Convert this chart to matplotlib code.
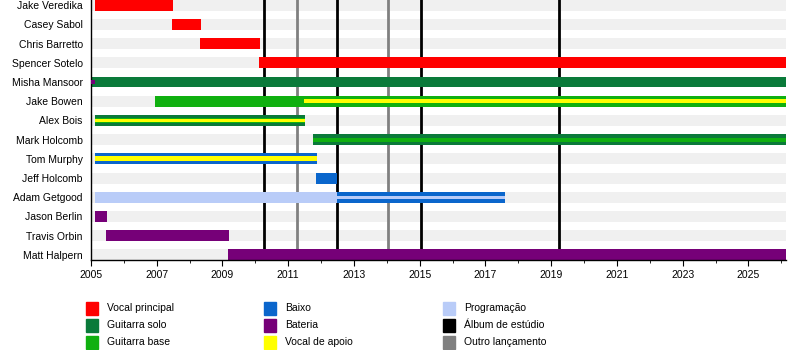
import matplotlib.pyplot as plt
from matplotlib.patches import Rectangle
from matplotlib.ticker import FixedLocator, MultipleLocator

plt.rcParams["font.family"] = ["Liberation Sans", "DejaVu Sans"]
plt.rcParams["font.size"] = 7.5

# --- band members, top to bottom ---
members = [
    "Jake Veredika", "Casey Sabol", "Chris Barretto", "Spencer Sotelo",
    "Misha Mansoor", "Jake Bowen", "Alex Bois", "Mark Holcomb",
    "Tom Murphy", "Jeff Holcomb", "Adam Getgood", "Jason Berlin",
    "Travis Orbin", "Matt Halpern",
]

# role colours / legend labels
role_colors = {
    "vocal": "#ff0000",
    "lead": "#0a7a3a",
    "rhythm": "#10b010",
    "bass": "#0a66cc",
    "drums": "#760078",
    "backing": "#ffff00",
    "prog": "#b9ccf8",
}
role_labels = {
    "vocal": "Vocal principal",
    "lead": "Guitarra solo",
    "rhythm": "Guitarra base",
    "bass": "Baixo",
    "drums": "Bateria",
    "backing": "Vocal de apoio",
    "prog": "Programação",
}

# main roles: (member, role, start, end)
main_roles = [
    ("Jake Veredika", "vocal", 2005.12, 2007.5),
    ("Casey Sabol", "vocal", 2007.47, 2008.35),
    ("Chris Barretto", "vocal", 2008.32, 2010.15),
    ("Spencer Sotelo", "vocal", 2010.12, 2026.2),
    ("Misha Mansoor", "lead", 2005.0, 2026.2),
    ("Jake Bowen", "rhythm", 2006.95, 2026.2),
    ("Alex Bois", "lead", 2005.12, 2011.5),
    ("Mark Holcomb", "lead", 2011.76, 2026.2),
    ("Tom Murphy", "bass", 2005.12, 2011.88),
    ("Jeff Holcomb", "bass", 2011.85, 2012.49),
    ("Adam Getgood", "prog", 2005.12, 2012.49),
    ("Adam Getgood", "bass", 2012.49, 2017.6),
    ("Jason Berlin", "drums", 2005.12, 2005.49),
    ("Travis Orbin", "drums", 2005.46, 2009.2),
    ("Matt Halpern", "drums", 2009.17, 2026.2),
]

# secondary roles drawn as inner stripes: (member, role, start, end)
inner_roles = [
    ("Misha Mansoor", "drums", 2005.0, 2005.12),
    ("Alex Bois", "rhythm", 2005.12, 2011.5),
    ("Mark Holcomb", "rhythm", 2011.76, 2026.2),
    ("Tom Murphy", "backing", 2005.12, 2011.88),
    ("Adam Getgood", "prog", 2012.49, 2017.6),
]

# thinnest stripes on top
backing_roles = [
    ("Jake Bowen", "backing", 2011.48, 2026.2),
    ("Alex Bois", "backing", 2005.12, 2011.5),
]

# releases
studio_albums = [2010.27, 2012.49, 2015.05, 2019.25]
other_releases = [2011.27, 2014.04]

x_start, x_end = 2005, 2026.15

fig = plt.figure(figsize=(8, 3.5), dpi=100)
ax = fig.add_axes([0.11375, 0.257, 0.869, 0.743])

row = {name: i for i, name in enumerate(members)}
bar_h = 0.57
inner_h = {"drums": 0.16, "prog": 0.16, "rhythm": 0.2, "backing": 0.27}

# light grey lanes behind each member
for i in range(len(members)):
    ax.barh(i, x_end - x_start, left=x_start, height=bar_h,
            color="#f0f0f0", zorder=0)

for x in studio_albums:
    ax.axvline(x, color="black", lw=2, zorder=1)
for x in other_releases:
    ax.axvline(x, color="#808080", lw=2, zorder=1)

for name, role, start, end in main_roles:
    ax.barh(row[name], end - start, left=start, height=bar_h,
            color=role_colors[role], zorder=2)
for name, role, start, end in inner_roles:
    h = 0.3 if name == "Alex Bois" else inner_h[role]
    ax.barh(row[name], end - start, left=start, height=h,
            color=role_colors[role], zorder=3)
for name, role, start, end in backing_roles:
    h = 0.15 if name == "Alex Bois" else 0.22
    ax.barh(row[name], end - start, left=start, height=h,
            color=role_colors[role], zorder=4)

ax.set_xlim(x_start, x_end)
ax.set_ylim(len(members) - 1 + 0.27, -0.27)
ax.set_yticks(range(len(members)))
ax.set_yticklabels(members)
ax.tick_params(axis="y", length=0, pad=6)
ax.xaxis.set_major_locator(FixedLocator(range(2005, 2027, 2)))
ax.xaxis.set_minor_locator(MultipleLocator(1))
ax.tick_params(axis="x", which="major", length=4, pad=3)
ax.tick_params(axis="x", which="minor", length=2)
for side in ("top", "right"):
    ax.spines[side].set_visible(False)
ax.spines["left"].set_linewidth(1)
ax.spines["bottom"].set_linewidth(1)

# --- legend below the chart, three columns ---
legend_cols = [
    [("vocal", None), ("lead", None), ("rhythm", None)],
    [("bass", None), ("drums", None), ("backing", None)],
    [("prog", None), ("black", "Álbum de estúdio"), ("#808080", "Outro lançamento")],
]
col_x = [86, 264, 443]
row_y = [308, 325, 342]
W, H = 800, 350
for cx, col in zip(col_x, legend_cols):
    for ry, (key, label) in zip(row_y, col):
        color = role_colors.get(key, key)
        text = label if label else role_labels[key]
        fig.patches.append(Rectangle((cx / W, 1 - (ry + 6.5) / H), 12 / W, 13 / H,
                                     transform=fig.transFigure, color=color))
        fig.text((cx + 21) / W, 1 - ry / H, text, va="center", ha="left",
                 fontsize=7.5)

fig.savefig("out.png", dpi=100)
